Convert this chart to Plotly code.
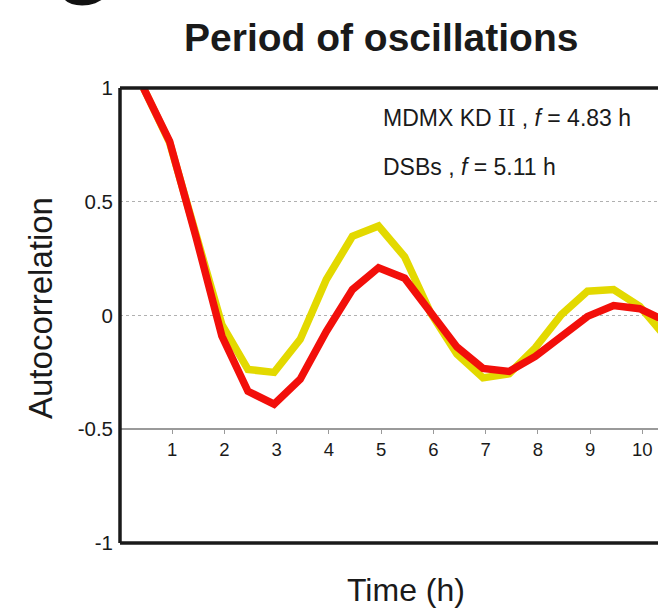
import plotly.graph_objects as go

# Data (time lag in hours, autocorrelation)
time_h = [0.45, 0.95, 1.45, 1.95, 2.45, 2.95, 3.45, 3.95, 4.45, 4.95, 5.45,
          5.95, 6.45, 6.95, 7.45, 7.95, 8.45, 8.95, 9.45, 9.95, 10.45]
mdmx_kd = [1.0, 0.76, 0.36, -0.04, -0.237, -0.25, -0.105, 0.158, 0.348, 0.393, 0.258,
           0.01, -0.17, -0.274, -0.256, -0.142, 0.004, 0.107, 0.114, 0.04, -0.095]
dsbs = [1.0, 0.766, 0.35, -0.09, -0.333, -0.39, -0.28, -0.07, 0.114, 0.21, 0.164,
        0.01, -0.138, -0.233, -0.246, -0.18, -0.091, -0.004, 0.044, 0.03, -0.025]
x_ticks = [1, 2, 3, 4, 5, 6, 7, 8, 9, 10]
y_ticks = [-1, -0.5, 0, 0.5, 1]
y_tick_text = ["-1", "-0.5", "0", "0.5", "1"]

RED = "#F20F0A"
YELLOW = "#E3D900"

fig = go.Figure()
fig.add_trace(go.Scatter(x=time_h, y=mdmx_kd, mode="lines",
                         line=dict(color=YELLOW, width=7.5), name="MDMX KD II"))
fig.add_trace(go.Scatter(x=time_h, y=dsbs, mode="lines",
                         line=dict(color=RED, width=7.5), name="DSBs"))

fig.update_layout(
    width=658, height=610,
    margin=dict(l=120, r=0, t=88, b=67),
    plot_bgcolor="white", paper_bgcolor="white",
    showlegend=False,
    font=dict(family="Liberation Sans, Arial, sans-serif", color="#1a1a1a"),
    xaxis=dict(range=[0, 10.3], anchor="free", position=0.25,
               showline=True, linecolor="#9a9a9a", linewidth=1.5,
               ticks="outside", ticklen=4, tickcolor="#9a9a9a", tickwidth=1,
               tickvals=x_ticks, tickfont=dict(size=18.5, color="#1a1a1a"),
               showgrid=False, zeroline=False, fixedrange=True),
    yaxis=dict(range=[-1, 1], tickvals=y_ticks, ticktext=y_tick_text,
               tickfont=dict(size=20.5, color="#1a1a1a"),
               showgrid=True, gridcolor="#b0b0b0", griddash="dot", gridwidth=1,
               zeroline=False, showline=False, ticks="", ticklabelstandoff=6,
               fixedrange=True),
)

# Black frame (left, top, bottom)
for (x0, y0, x1, y1) in [(0, 0, 0, 1), (0, 1, 1.01, 1), (0, 0, 1.01, 0)]:
    fig.add_shape(type="line", xref="paper", yref="paper",
                  x0=x0, y0=y0, x1=x1, y1=y1,
                  line=dict(color="#1a1a1a", width=3.5))

# Title
fig.add_annotation(text="<b>Period of oscillations</b>", xref="paper", yref="paper",
                   x=0.485, y=(543 - 38) / 455, xanchor="center", yanchor="middle",
                   showarrow=False, font=dict(size=39, color="#1a1a1a",
                                              family="Liberation Sans, Arial"))
# Partial panel letter
fig.add_annotation(text="<b>G</b>", xref="paper", yref="paper",
                   x=(82 - 120) / 538, y=(543 - 22) / 455, xanchor="center", yanchor="bottom",
                   showarrow=False, font=dict(size=72, color="#111111"))
# Axis titles
fig.add_annotation(text="Time (h)", xref="paper", yref="paper",
                   x=(406 - 120) / 538, y=(543 - 590) / 455, xanchor="center", yanchor="middle",
                   showarrow=False, font=dict(size=32, color="#1a1a1a"))
fig.add_annotation(text="Autocorrelation", xref="paper", yref="paper", textangle=-90,
                   x=(40 - 120) / 538, y=(543 - 308) / 455, xanchor="center", yanchor="middle",
                   showarrow=False, font=dict(size=33, color="#1a1a1a"))
# Legend texts
serif = "<span style='font-family:Liberation Serif, Times New Roman, serif;font-size:26px'>II</span>"
fig.add_annotation(text="MDMX KD " + serif + " , <i>f</i> = 4.83 h", xref="paper", yref="paper",
                   x=(381 - 120) / 538, y=(543 - 117) / 455, xanchor="left", yanchor="middle",
                   showarrow=False, font=dict(size=23, color="#1a1a1a"))
fig.add_annotation(text="DSBs , <i>f</i> = 5.11 h", xref="paper", yref="paper",
                   x=(381 - 120) / 538, y=(543 - 167) / 455, xanchor="left", yanchor="middle",
                   showarrow=False, font=dict(size=23, color="#1a1a1a"))

fig.write_html("out.html")
